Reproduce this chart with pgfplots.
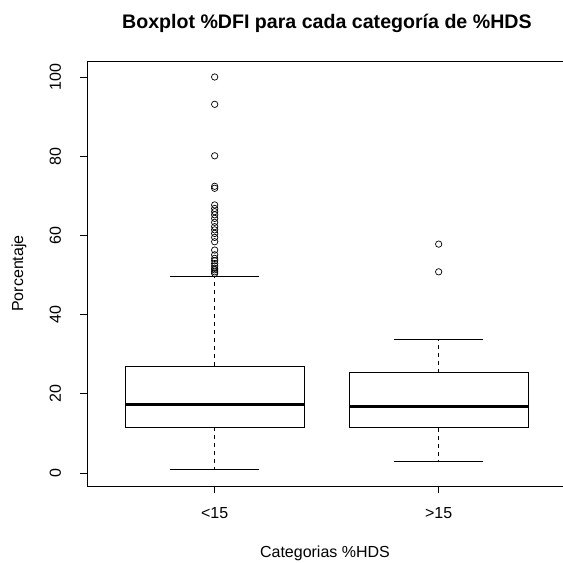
\documentclass[border=0pt]{standalone}
\usepackage{fontspec}
\setmainfont{Liberation Sans}
\usepackage{pgfplots}
\pgfplotsset{compat=1.18}

\begin{document}
\begin{tikzpicture}
\begin{axis}[
  name=ax,
  scale only axis,
  width=476pt, height=425pt,
  xmin=0.43, xmax=2.555,
  ymin=-3.28, ymax=104.04,
  axis x line*=box,
  axis y line*=left,
  axis line style={line width=0.8pt},
  xtick={1,2}, xticklabels={<15,>15},
  ytick={0,20,40,60,80,100},
  tick align=outside,
  major tick length=7pt,
  tick style={black, line width=0.8pt},
  xtick pos=bottom, ytick pos=left,
  /pgf/number format/assume math mode=true,
  tick label style={font=\fontsize{16}{18}\selectfont},
  yticklabel style={rotate=90, anchor=south, yshift=15.5pt},
  xticklabel style={anchor=center, yshift=-20pt},
  title={\bfseries Boxplot \%DFI para cada categoría de \%HDS},
  title style={font=\fontsize{19.6}{22}\selectfont, at={(axis description cs:0.504,1)}, anchor=center, yshift=32pt},
  xlabel={Categorias \%HDS},
  xlabel style={font=\fontsize{16}{18}\selectfont, at={(axis description cs:0.5,0)}, anchor=center, yshift=-67pt},
  ylabel={Porcentaje},
  ylabel style={font=\fontsize{16}{18}\selectfont, at={(axis description cs:-0.143,0.5)}, anchor=center},
  boxline/.style={black, line width=0.8pt, line join=miter},
  whisk/.style={black, line width=0.8pt, dash pattern=on 4pt off 4pt},
  med/.style={black, line width=3pt},
  outl/.style={only marks, mark=o, mark size=3.2pt, mark options={black, line width=0.7pt}},
]
% <15 : quartiles 11.5 / 26.9, median 17.3, whiskers 1.0 / 49.7
\addplot[boxline] coordinates {(0.6,11.5) (1.4,11.5) (1.4,26.9) (0.6,26.9) (0.6,11.5)};
\addplot[med] coordinates {(0.6,17.3) (1.4,17.3)};
\addplot[whisk] coordinates {(1,26.9) (1,49.7)};
\addplot[whisk] coordinates {(1,11.5) (1,1.0)};
\addplot[boxline] coordinates {(0.8,49.7) (1.2,49.7)};
\addplot[boxline] coordinates {(0.8,1.0) (1.2,1.0)};
\addplot[outl] coordinates {
  (1,100.0) (1,93.1) (1,80.1) (1,72.4) (1,71.9)
  (1,67.7) (1,66.8) (1,66.0) (1,65.2) (1,64.3) (1,63.3)
  (1,62.2) (1,61.4) (1,60.5) (1,59.5) (1,58.4)
  (1,56.3) (1,55.1) (1,54.2) (1,53.6) (1,52.9) (1,52.3)
  (1,51.7) (1,51.3) (1,50.8) (1,50.4)
};
% >15 : quartiles 11.4 / 25.3, median 16.7, whiskers 3.0 / 33.8
\addplot[boxline] coordinates {(1.6,11.4) (2.4,11.4) (2.4,25.3) (1.6,25.3) (1.6,11.4)};
\addplot[med] coordinates {(1.6,16.7) (2.4,16.7)};
\addplot[whisk] coordinates {(2,25.3) (2,33.8)};
\addplot[whisk] coordinates {(2,11.4) (2,3.0)};
\addplot[boxline] coordinates {(1.8,33.8) (2.2,33.8)};
\addplot[boxline] coordinates {(1.8,3.0) (2.2,3.0)};
\addplot[outl] coordinates {(2,57.8) (2,50.8)};
\end{axis}
\pgfresetboundingbox
\path[use as bounding box] ([xshift=-87pt, yshift=-77pt]ax.south west) rectangle ([yshift=61pt]ax.north east);
\end{tikzpicture}
\end{document}
